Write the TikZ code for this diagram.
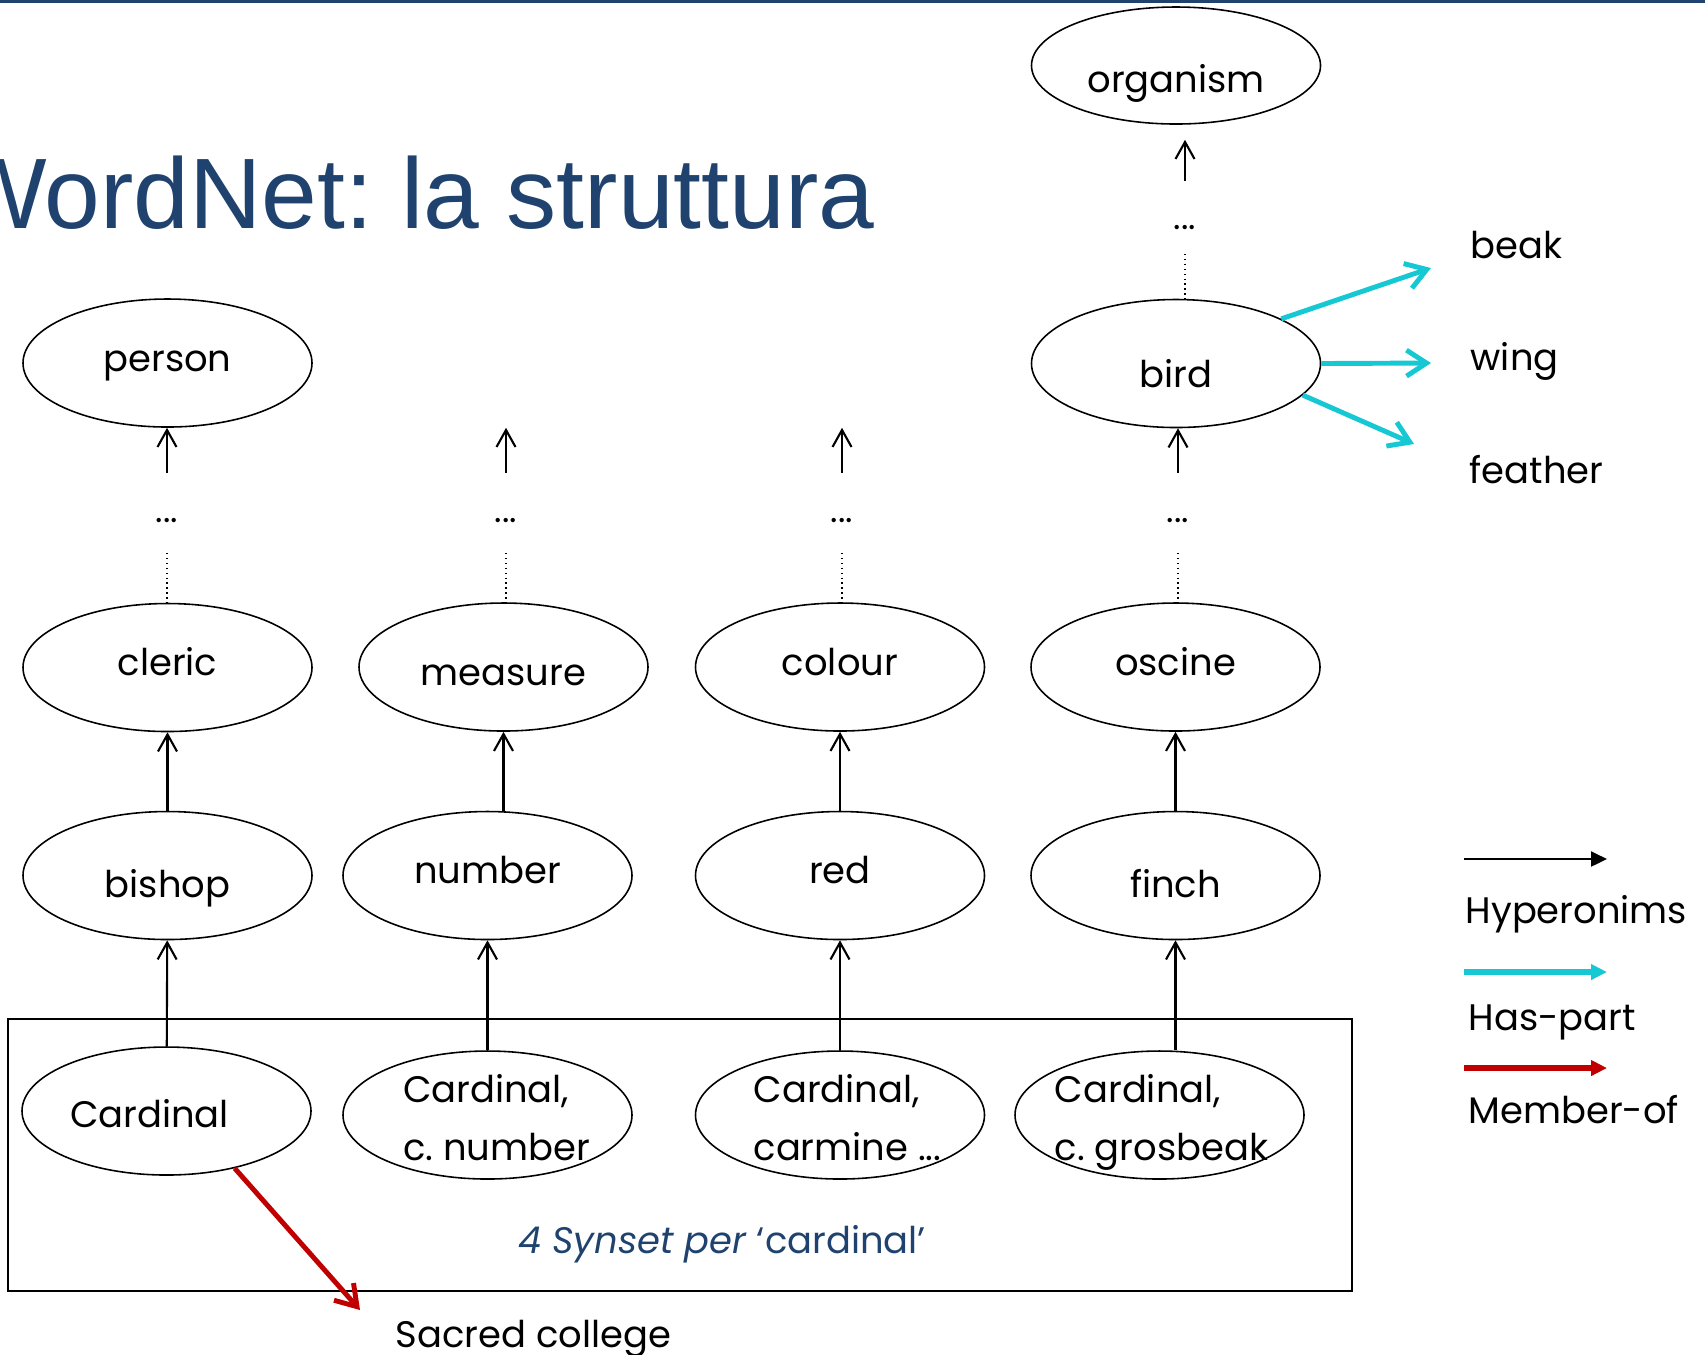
\documentclass[tikz,border=0pt]{standalone}
\usepackage{fontspec}
\setmainfont{Poppins}
\newfontfamily\titlefont{Liberation Sans}
\usetikzlibrary{arrows.meta,shapes.geometric}
\definecolor{wnblue}{RGB}{31,66,110}
\definecolor{wncyan}{RGB}{22,200,212}
\definecolor{wnred}{RGB}{192,0,0}
\newcommand{\twolines}[3][0pt]{\makebox[0pt]{\kern#1\begin{tabular}[t]{@{}l@{}}#2\\#3\end{tabular}}}
\frenchspacing

\begin{document}
\begin{tikzpicture}
[x=0.1mm,y=-0.1mm,
font=\fontsize{10.5}{16.5}\selectfont,
syn/.style={ellipse,draw,line width=0.45pt,minimum width=28.9mm,minimum height=12.8mm,
  inner sep=0pt,text depth=0pt,text height=1.6mm},
two/.style={text height=0pt,text depth=2.6mm},
dots/.style={font=\fontsize{10}{12}\selectfont,inner sep=0pt,anchor=base},
word/.style={inner sep=0pt,anchor=base west},
hyper/.style={->,>={Straight Barb[length=1.7mm,width=1.9mm]},semithick},
gap/.style={densely dotted,line width=0.4pt,shorten <=3mm},
haspart/.style={->,>={Straight Barb[length=2mm,width=2.6mm]},draw=wncyan,line width=1.4pt},
memberof/.style={->,>={Straight Barb[length=2mm,width=2.6mm]},draw=wnred,line width=1.4pt},
legend/.style={-{Triangle[length=1.6mm,width=1.5mm]}}]
\clip (0,0) rectangle (1705,1354);
\draw[wnblue,line width=0.3mm] (0,1.5) -- (1705,1.5);
\node[font=\titlefont\fontsize{28.5}{34}\selectfont,text=wnblue,inner sep=0pt,anchor=base east]
  (title) at (875,228) {WordNet: la struttura};
% synsets
\node[syn,minimum height=11.7mm,text height=5.4mm] (organism) at (1176,65.5) {organism};
\node[syn] (person) at (167.5,363) {person};
\node[syn,text height=4.7mm] (bird) at (1176,363.5) {bird};
\node[syn] (cleric) at (167.5,667.5) {cleric};
\node[syn,text height=3.6mm] (measure) at (503.5,667) {measure};
\node[syn] (colour) at (840,667) {colour};
\node[syn] (oscine) at (1175.5,667) {oscine};
\node[syn,text height=4.3mm] (bishop) at (167.5,875.5) {bishop};
\node[syn] (number) at (487.5,875.5) {number};
\node[syn] (red) at (840,875.5) {red};
\node[syn,text height=4.4mm] (finch) at (1175.5,875.5) {finch};
\node[syn,text height=3.2mm] (cardinal) at (166.5,1111) {Cardinal\kern3.4mm};
\node[syn,two] (cardnum) at (487.5,1115) {\twolines[1.8mm]{Cardinal,}{c. number}};
\node[syn,two] (carmine) at (840,1115) {\twolines[1.5mm]{Cardinal,}{carmine ...}};
\node[syn,two] (grosbeak) at (1159.5,1115) {\twolines[0.4mm]{Cardinal,}{c. grosbeak}};
% omitted levels
\node[dots] (dots person) at (167,522) {...};
\node[dots] (dots measure) at (506,522) {...};
\node[dots] (dots colour) at (842,522) {...};
\node[dots] (dots bird) at (1178,522) {...};
\node[dots] (dots organism) at (1185,229) {...};
% hyperonyms
\draw[hyper] (bishop) -- (cleric);
\draw[hyper] (measure |- number.north) -- (measure);
\draw[hyper] (red) -- (colour);
\draw[hyper] (finch) -- (oscine);
\draw[hyper] (cardinal) -- (bishop);
\draw[hyper] (cardnum) -- (number);
\draw[hyper] (carmine) -- (red);
\draw[hyper] (finch |- grosbeak.north) -- (finch);
\draw[gap] (dots person) -- (dots person |- cleric.north);
\draw[gap] (dots measure) -- (dots measure |- measure.north);
\draw[gap] (dots colour) -- (dots colour |- colour.north);
\draw[gap] (dots bird) -- (dots bird |- oscine.north);
\draw[gap,shorten <=2.4mm] (dots organism) -- (dots organism |- bird.north);
\draw[hyper,shorten <=4.4mm] (dots person) -- (dots person |- person.south);
\draw[hyper,shorten <=4.4mm] (dots measure) -- (dots measure |- person.south);
\draw[hyper,shorten <=4.4mm] (dots colour) -- (dots colour |- person.south);
\draw[hyper,shorten <=4.4mm] (dots bird) -- (dots bird |- bird.south);
\draw[hyper,shorten <=4.3mm,shorten >=1.5mm] (dots organism) -- (dots organism |- organism.south);
% parts
\node[word] (beak) at (1470,258) {beak};
\node[word] (wing) at (1470,370) {wing};
\node[word] (feather) at (1469,483) {feather};
\coordinate (beak tip) at (1431,268);
\coordinate (wing tip) at (1431,363);
\coordinate (feather tip) at (1414,444);
\draw[haspart] (bird.23) -- (beak tip);
\draw[haspart] (bird.east) -- (wing tip);
\draw[haspart] (bird.-14) -- (feather tip);
% synsets of cardinal
\draw[line width=0.6pt] (7.6,1019) rectangle (1352,1291);
\node[inner sep=0pt,anchor=base,text=wnblue] (caption) at (722,1253)
  {\textit{4 Synset per} ‘cardinal’};
\node[word] (sacred) at (395,1347) {Sacred college};
\coordinate (sacred tip) at (360,1310);
\draw[memberof] (cardinal.-40) -- (sacred tip);
% legend
\draw[legend,semithick] (1464,859) -- (1607,859);
\node[word] (hyperonims) at (1465,923) {Hyperonims};
\draw[legend,wncyan,line width=1.5pt] (1464,972) -- (1607,972);
\node[word] (has part) at (1468,1030) {Has-part};
\draw[legend,wnred,line width=1.5pt] (1464,1068) -- (1607,1068);
\node[word] (member of) at (1468,1123) {Member-of};
\end{tikzpicture}
\end{document}
